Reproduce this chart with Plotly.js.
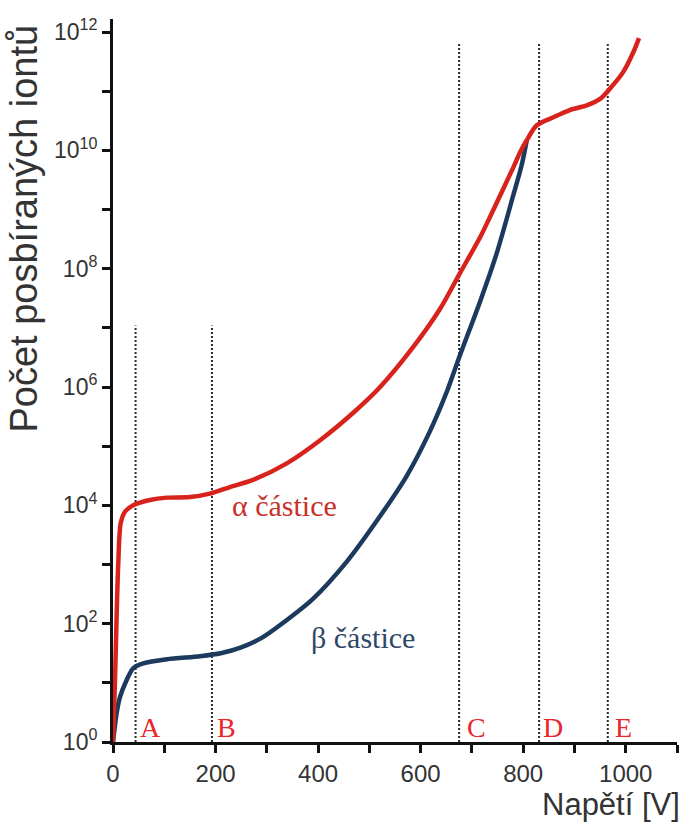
<!DOCTYPE html>
<html>
<head>
<meta charset="utf-8">
<script src="https://cdn.plot.ly/plotly-3.0.1.min.js"></script>
<style>
html,body{margin:0;padding:0;background:#fff;}
#chart{width:683px;height:827px;}
</style>
</head>
<body>
<div id="chart"></div>
<script>
// Alpha particles (red): voltage [V] and number of collected ions
const voltageAlpha = [0, 3.9, 7.2, 10.3, 15, 23.4, 39.6, 72, 105, 150, 189, 228, 273, 339, 404, 468, 521, 586, 638, 677, 716, 735, 781, 794, 807, 826, 859, 891, 924, 950, 969, 995, 1015, 1026];
const countsAlpha = [1, 11, 150, 1050, 5000, 7800, 1.0e4, 1.23e4, 1.35e4, 1.38e4, 1.58e4, 2.04e4, 2.69e4, 5.13e4, 1.26e5, 3.63e5, 1.0e6, 4.8e6, 2.1e7, 8.5e7, 3.4e8, 7.4e8, 5.2e9, 9.3e9, 1.48e10, 2.63e10, 3.63e10, 4.8e10, 5.75e10, 7.4e10, 1.1e11, 2.1e11, 4.6e11, 7.9e11];

// Beta particles (dark blue)
const voltageBeta = [0, 7.2, 13.7, 26.7, 39.6, 59, 105, 170, 210, 250, 290, 326, 390, 456, 521, 573, 618, 651, 677, 716, 748, 781, 797, 807];
const countsBeta = [1, 3.1, 5.8, 11.2, 17.8, 21.4, 25.1, 28.2, 31.6, 39.8, 57.5, 95, 263, 1120, 6600, 3.16e4, 1.78e5, 8.3e5, 3.5e6, 2.8e7, 1.78e8, 1.78e9, 5.6e9, 1.48e10];

// Region boundaries (dotted lines) and their letters
const regionNames = ['A', 'B', 'C', 'D', 'E'];
const regionVoltages = [44, 193, 675, 831, 965];
const regionTops = [1.1e7, 1.1e7, 6.3e11, 6.3e11, 6.3e11];
const regionLabelVoltages = [74, 222, 708, 858, 995];

// Axis ticks
const xTickVals = [0, 100, 200, 300, 400, 500, 600, 700, 800, 900, 1000, 1100];
const xTickText = ['0', '', '200', '', '400', '', '600', '', '800', '', '1000', ''];
const yTickExponents = [0, 1, 2, 3, 4, 5, 6, 7, 8, 9, 10, 11, 12];

const yTickVals = yTickExponents.map(e => Math.pow(10, e));
const yTickText = yTickExponents.map(e => e % 2 === 0 ? '10<sup>' + e + '</sup>' : '');

const traces = [];
regionVoltages.forEach((v, i) => {
  traces.push({
    x: [v, v], y: [1, regionTops[i]], mode: 'lines', type: 'scatter',
    line: {color: '#2a2a2a', width: 2, dash: '2px,2px'}, hoverinfo: 'skip', showlegend: false
  });
});
traces.push({
  x: voltageBeta, y: countsBeta, mode: 'lines', type: 'scatter',
  line: {color: '#1c3a5e', width: 4.5, shape: 'spline', smoothing: 0.8}, showlegend: false
});
traces.push({
  x: voltageAlpha, y: countsAlpha, mode: 'lines', type: 'scatter',
  line: {color: '#d8231d', width: 4.5, shape: 'spline', smoothing: 0.8}, showlegend: false
});

const serif = 'Liberation Serif, Times New Roman, serif';
const sans = 'Liberation Sans, Arial, sans-serif';

const annotations = regionNames.map((n, i) => ({
  x: regionLabelVoltages[i], y: 0.24, xref: 'x', yref: 'y', text: n, showarrow: false,
  font: {family: serif, size: 28, color: '#e8262b'}, xanchor: 'center', yanchor: 'middle'
}));
annotations.push({
  x: 335, y: 4.0, xref: 'x', yref: 'y', text: 'α částice', showarrow: false,
  font: {family: serif, size: 30, color: '#c9302c'}, xanchor: 'center', yanchor: 'middle'
});
annotations.push({
  x: 488, y: 1.77, xref: 'x', yref: 'y', text: 'β částice', showarrow: false,
  font: {family: serif, size: 30, color: '#2d4868'}, xanchor: 'center', yanchor: 'middle'
});
annotations.push({
  x: 1.009, y: -0.06, xref: 'paper', yref: 'paper', text: 'Napětí [V]', showarrow: false,
  font: {family: sans, size: 31, color: '#333'}, xanchor: 'right', yanchor: 'top'
});
annotations.push({
  x: -0.158, y: 0.71, xref: 'paper', yref: 'paper', text: 'Počet posbíraných iontů', showarrow: false,
  textangle: -90, font: {family: sans, size: 38, color: '#333'}, xanchor: 'center', yanchor: 'middle'
});

const layout = {
  width: 683, height: 827,
  margin: {l: 113, r: 6, t: 19, b: 85},
  paper_bgcolor: '#fff', plot_bgcolor: '#fff',
  showlegend: false,
  xaxis: {
    range: [0, 1100], showline: true, linecolor: '#111', linewidth: 3,
    ticks: 'outside', ticklen: 8, tickwidth: 3, tickcolor: '#111',
    tickvals: xTickVals, ticktext: xTickText, showgrid: false, zeroline: false,
    tickfont: {family: sans, size: 24, color: '#333'}
  },
  yaxis: {
    type: 'log', range: [0, 12.22], showline: true, linecolor: '#111', linewidth: 3,
    ticks: 'outside', ticklen: 8, tickwidth: 3, tickcolor: '#111',
    tickvals: yTickVals, ticktext: yTickText, showgrid: false, zeroline: false,
    tickfont: {family: sans, size: 23, color: '#333'}
  },
  annotations: annotations
};

Plotly.newPlot('chart', traces, layout, {displayModeBar: false, staticPlot: true});
</script>
</body>
</html>
